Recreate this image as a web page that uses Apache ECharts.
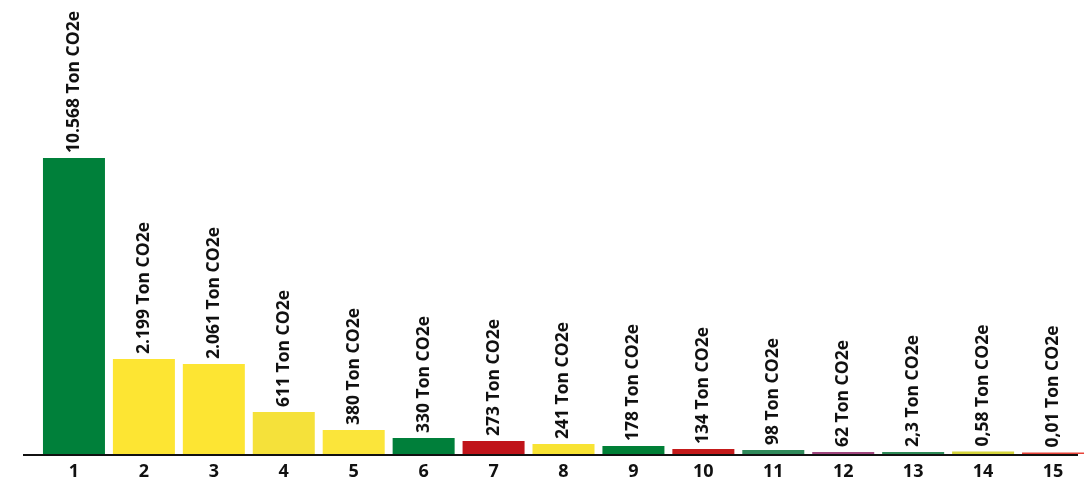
<!DOCTYPE html>
<html>
<head>
<meta charset="utf-8">
<script src="https://cdn.jsdelivr.net/npm/echarts@6/dist/echarts.min.js"></script>
<style>html,body{margin:0;padding:0;background:#fff}#c{width:1088px;height:485px}</style>
</head>
<body>
<div id="c"></div>
<script>
const categories = ['1','2','3','4','5','6','7','8','9','10','11','12','13','14','15'];
// bar heights as drawn in the picture (arbitrary units, not proportional to labels)
const barValues = [296, 95, 90, 42, 24, 16, 13, 10, 8, 5, 4, 2, 2, 2.5, 1.5];
const valueLabels = ['10.568','2.199','2.061','611','380','330','273','241','178','134','98','62','2,3','0,58','0,01'];
const unit = ' Ton CO2e';
const barColors = ['#00803A','#FDE533','#FDE533','#F5E13A','#FBE53A','#007F3A','#C0141A','#F8E333','#007F36','#C41A1A','#2F8A5A','#A0467F','#2E8B57','#D4D43A','#E8443A'];

const chart = echarts.init(document.getElementById('c'));
chart.setOption({
  animation: false,
  grid: {left: 39, right: 0, top: 54, bottom: 31},
  xAxis: {
    type: 'category',
    data: categories,
    axisLine: {show: false},
    axisTick: {show: false},
    axisLabel: {margin: 9, fontSize: 18, fontWeight: 'bold', color: '#111', fontFamily: 'Open Sans'}
  },
  yAxis: {type: 'value', min: 0, max: 400, show: false, splitLine: {show: false}},
  series: [{
    type: 'bar',
    barWidth: 62,
    data: barValues.map((v, i) => ({value: v, itemStyle: {color: barColors[i]}})),
    label: {
      show: true,
      position: 'top',
      distance: 5,
      rotate: 90,
      align: 'left',
      verticalAlign: 'middle',
      fontFamily: 'Open Sans',
      fontWeight: 'bold',
      fontSize: 17.5,
      color: '#111',
      formatter: p => valueLabels[p.dataIndex] + unit
    }
  }],
  graphic: [{
    type: 'line',
    shape: {x1: 23, y1: 455, x2: 1078, y2: 455},
    style: {stroke: '#111', lineWidth: 2},
    z: 10
  }]
});
</script>
</body>
</html>
